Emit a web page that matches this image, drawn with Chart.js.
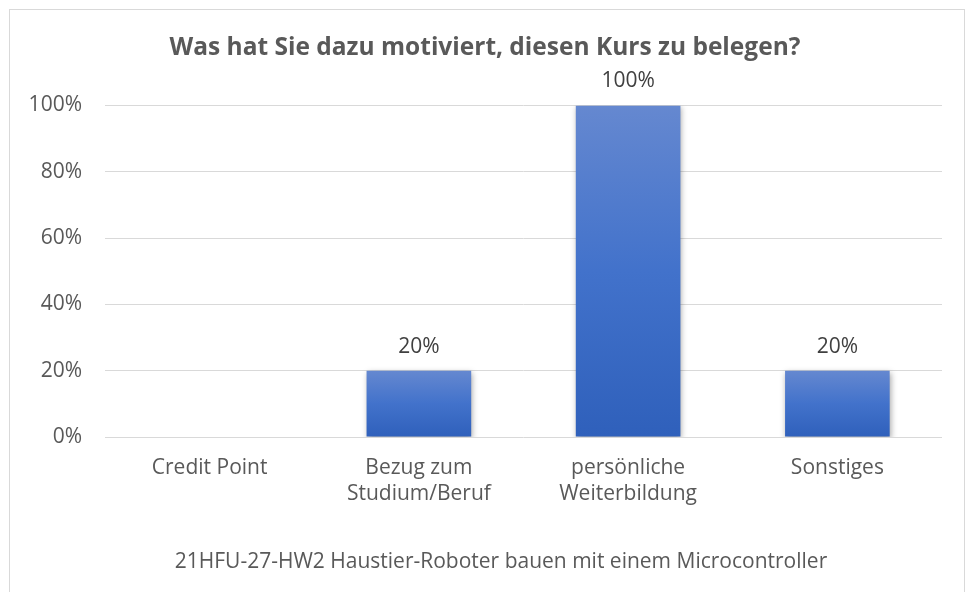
<!DOCTYPE html>
<html>
<head>
<meta charset="utf-8">
<script src="https://cdn.jsdelivr.net/npm/chart.js@4"></script>
<style>
  html, body { margin: 0; padding: 0; background: #fff; }
  #wrap { position: relative; width: 972px; height: 592px; overflow: hidden; }
  #rahmen { position: absolute; left: 9px; top: 9px; width: 956px; height: 600px; border: 1px solid #d9d9d9; box-sizing: border-box; }
  canvas { position: absolute; left: 0; top: 0; }
</style>
</head>
<body>
<div id="wrap">
  <div id="rahmen"></div>
  <canvas id="grafik" width="972" height="592"></canvas>
</div>
<script>
// Daten aus dem Diagramm
const kategorien = ["Credit Point", ["Bezug zum", "Studium/Beruf"], ["persönliche", "Weiterbildung"], "Sonstiges"];
const anteile = [0, 0.2, 1.0, 0.2];
const yTicks = [0, 0.2, 0.4, 0.6, 0.8, 1.0];
const titel = "Was hat Sie dazu motiviert, diesen Kurs zu belegen?";
const fusszeile = "21HFU-27-HW2 Haustier-Roboter bauen mit einem Microcontroller";

const schrift = "'Open Sans', Lato, sans-serif";

// Verlauf pro Balken (oben hell, unten dunkel)
function balkenFarbe(context) {
    const chart = context.chart;
    if (!chart.chartArea || !chart.scales.y) return "#3f6fc6";
    const y = chart.scales.y;
    const oben = y.getPixelForValue(context.raw || 0);
    const unten = y.getPixelForValue(0);
    if (unten - oben < 1) return "#3f6fc6";
    const g = chart.ctx.createLinearGradient(0, oben, 0, unten);
    g.addColorStop(0, "#6588d0");
    g.addColorStop(0.5, "#4272cb");
    g.addColorStop(1, "#2f60bb");
    return g;
}

// Schatten unter den Balken
const schattenPlugin = {
    id: "schatten",
    beforeDatasetsDraw(chart) {
        const ctx = chart.ctx;
        ctx.save();
        ctx.shadowColor = "rgba(0,0,0,0.35)";
        ctx.shadowBlur = 6;
        ctx.shadowOffsetX = 1;
        ctx.shadowOffsetY = 2;
    },
    afterDatasetsDraw(chart) {
        chart.ctx.restore();
    }
};

// Prozentwerte über den Balken
const beschriftungPlugin = {
    id: "beschriftung",
    afterDatasetsDraw(chart) {
        const ctx = chart.ctx;
        const meta = chart.getDatasetMeta(0);
        ctx.save();
        ctx.font = "21px " + schrift;
        ctx.fillStyle = "#404040";
        ctx.textAlign = "center";
        ctx.textBaseline = "middle";
        meta.data.forEach((bar, i) => {
            if (anteile[i] > 0) {
                ctx.fillText(Math.round(anteile[i] * 100) + "%", bar.x, bar.y - 24);
            }
        });
        ctx.restore();
    }
};

// Fußzeile unter dem Diagramm
const fussPlugin = {
    id: "fuss",
    afterDraw(chart) {
        const ctx = chart.ctx;
        ctx.save();
        ctx.font = "21px " + schrift;
        ctx.fillStyle = "#595959";
        ctx.textAlign = "center";
        ctx.textBaseline = "middle";
        ctx.fillText(fusszeile, 501, 562);
        ctx.restore();
    }
};

new Chart(document.getElementById("grafik"), {
    type: "bar",
    data: {
        labels: kategorien,
        datasets: [{
            data: anteile,
            backgroundColor: balkenFarbe,
            borderWidth: 0,
            barPercentage: 0.5,
            categoryPercentage: 1.0
        }]
    },
    options: {
        responsive: false,
        animation: false,
        layout: { padding: { left: 28, right: 30, top: 0, bottom: 42 } },
        plugins: {
            legend: { display: false },
            tooltip: { enabled: false },
            title: {
                display: true,
                text: titel,
                color: "#595959",
                font: { family: schrift, size: 24.5, weight: "bold", lineHeight: 1.2 },
                padding: { top: 33, bottom: 43 }
            }
        },
        scales: {
            x: {
                grid: { display: false, drawTicks: false },
                border: { display: false },
                ticks: {
                    color: "#595959",
                    font: { family: schrift, size: 21, lineHeight: 1.24 },
                    padding: 18,
                    maxRotation: 0,
                    autoSkip: false
                },
                afterFit(scale) { scale.height = 113; }
            },
            y: {
                min: 0,
                max: 1,
                afterBuildTicks(scale) { scale.ticks = yTicks.map(v => ({ value: v })); },
                grid: { color: "#d9d9d9", lineWidth: 1, drawTicks: false },
                border: { display: false },
                ticks: {
                    color: "#595959",
                    font: { family: schrift, size: 21 },
                    padding: 23,
                    callback: v => Math.round(v * 100) + "%"
                },
                afterFit(scale) { scale.width = 77; }
            }
        }
    },
    plugins: [schattenPlugin, beschriftungPlugin, fussPlugin]
});
</script>
</body>
</html>
